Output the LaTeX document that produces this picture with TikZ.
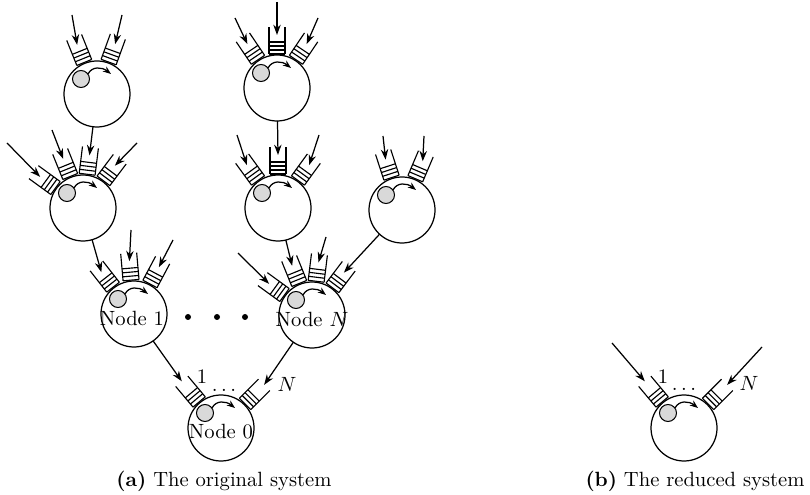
\documentclass[tikz,border=0pt]{standalone}
\usetikzlibrary{arrows.meta}
% buffer of a server: two walls, four slots, tip coordinates inside (#1-#3) and at the mouth (#1-#3o)
\newcommand\qbuf[3]{%
  \begin{scope}[shift={(#1)},rotate=#2]
    \draw[qline] (34,-8) -- (61,-8) (34,8) -- (61,8);
    \foreach \k in {0,4,8,12}{\draw[qline] (34+\k,-8) -- (34+\k,8);}
    \coordinate (#1-#3) at (53,0);
    \coordinate (#1-#3o) at (61,0);
  \end{scope}}
% job in service with its rotation arrow
\newcommand\core[1]{%
  \begin{scope}[shift={(#1)}]
    \filldraw[fill=black!15,line width=0.5pt] (-16,15) circle[radius=8.5];
    \draw[spin] (-9,20) .. controls (-5,28) and (5,27) .. (14,20);
  \end{scope}}
\begin{document}
\begin{tikzpicture}[x=0.4854pt,y=0.4854pt,line width=0.6pt,
  server/.style={circle,draw,minimum size=32.04pt,inner sep=0pt,outer sep=0pt},
  qline/.style={line width=0.55pt},
  feed/.style={-{Stealth[length=5pt,width=3.6pt]}},
  spin/.style={-{Stealth[length=4pt,width=3pt]}},
  tag/.style={inner sep=0pt}]
\useasboundingbox (0,0) rectangle (810,494);

% servers
\node[server] (A)  at (97,400) {};
\node[server] (C)  at (277,406) {};
\node[server] (B)  at (83,286) {};
\node[server] (D)  at (278,286) {};
\node[server] (E)  at (402,284) {};
\node[server] (N1) at (134,180) {};
\node[server] (NN) at (312,179) {};
\node[server] (N0) at (221,66) {};
\node[server] (R)  at (684,66) {};

\foreach \s in {A,C,B,D,E,N1,NN,N0,R}{\core{\s}}

\node[tag] (l1) at (132,176) {Node 1};
\node[tag] (lN) at (312,175) {Node $N$};
\node[tag] (l0) at (221,62) {Node 0};

% buffers
\qbuf{A}{112}{q1} \qbuf{A}{70}{q2}
\qbuf{C}{124}{q1} \qbuf{C}{90}{q2} \qbuf{C}{56}{q3}
\qbuf{B}{144}{q1} \qbuf{B}{112}{q2} \qbuf{B}{83}{q3} \qbuf{B}{53}{q4}
\qbuf{D}{126}{q1} \qbuf{D}{90}{q2} \qbuf{D}{54}{q3}
\qbuf{E}{108}{q1} \qbuf{E}{67}{q2}
\qbuf{N1}{128}{q1} \qbuf{N1}{95}{q2} \qbuf{N1}{62}{q3}
\qbuf{NN}{144}{q1} \qbuf{NN}{112}{q2} \qbuf{NN}{83}{q3} \qbuf{NN}{53}{q4}
\qbuf{N0}{130}{q1} \qbuf{N0}{45}{q2}
\qbuf{R}{130}{q1} \qbuf{R}{45}{q2}

% external arrivals
\coordinate (fA1) at (72,479);  \coordinate (fA2) at (122,479);
\coordinate (fC1) at (235,476); \coordinate (fC2) at (277,492); \coordinate (fC3) at (318,476);
\coordinate (fB1) at (7,351);   \coordinate (fB2) at (52,364);  \coordinate (fB4) at (137,351);
\coordinate (fD1) at (237,359); \coordinate (fD3) at (319,359);
\coordinate (fE1) at (383,358); \coordinate (fE2) at (424,358);
\coordinate (fN1b) at (131,264); \coordinate (fN1c) at (173,254);
\coordinate (fNNa) at (238,241); \coordinate (fNNc) at (326,257);
\coordinate (fR1) at (612,151); \coordinate (fR2) at (762,147);

\draw[feed] (fA1) -- (A-q1);  \draw[feed] (fA2) -- (A-q2);
\draw[feed] (fC1) -- (C-q1);  \draw[feed] (fC2) -- (C-q2);  \draw[feed] (fC3) -- (C-q3);
\draw[feed] (fB1) -- (B-q1);  \draw[feed] (fB2) -- (B-q2);  \draw[feed] (fB4) -- (B-q4);
\draw[feed] (fD1) -- (D-q1);  \draw[feed] (fD3) -- (D-q3);
\draw[feed] (fE1) -- (E-q1);  \draw[feed] (fE2) -- (E-q2);
\draw[feed] (fN1b) -- (N1-q2); \draw[feed] (fN1c) -- (N1-q3);
\draw[feed] (fNNa) -- (NN-q1); \draw[feed] (fNNc) -- (NN-q3);
\draw[feed] (fR1) -- (R-q1o); \draw[feed] (fR2) -- (R-q2o);

% routing between servers
\draw[feed] (A) -- (B-q3);
\draw[feed] (C) -- (D-q2);
\draw[feed] (B) -- (N1-q1);
\draw[feed] (D) -- (NN-q2);
\draw[feed] (E) -- (NN-q4);
\draw[feed] (N1) -- (N0-q1o);
\draw[feed] (NN) -- (N0-q2o);

% servers 2..N-1 left out
\fill (188,177) circle[radius=3];
\fill (217,177) circle[radius=3];
\fill (245,177) circle[radius=3];

% buffer indices at the root
\node[tag] (i1)  at (202,117) {1};
\node[tag] (id)  at (224,104) {$\dots$};
\node[tag] (iN)  at (287,110) {$N$};
\node[tag] (r1)  at (663,117) {1};
\node[tag] (rd)  at (684,105) {$\dots$};
\node[tag] (rN)  at (749,111) {$N$};

% captions
\node[tag] (capa) at (224,13) {\textbf{(a)} The original system};
\node[tag] (capb) at (695,13) {\textbf{(b)} The reduced system};
\end{tikzpicture}
\end{document}
